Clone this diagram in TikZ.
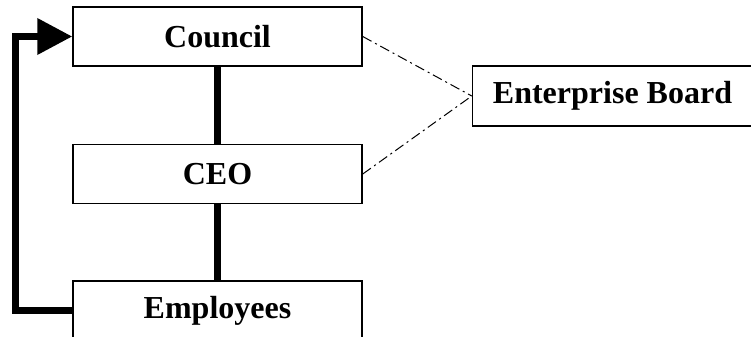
\documentclass[tikz,border=0pt]{standalone}
\usepackage{fontspec}
\setmainfont{Liberation Serif}
\usetikzlibrary{positioning}
\usetikzlibrary{arrows.meta}

\tikzset{
	unit/.style = {draw, black, line width = 0.75pt, fill = white, inner sep = 0pt, minimum width = 144.5pt, minimum height = 29.5pt, font = \fontsize{16}{19}\selectfont\bfseries},
	link/.style = {black, line width = 3.5pt},
	advice/.style = {black, line width = 0.5pt, dash pattern = on 5pt off 2pt on 1pt off 2pt}
}

\begin{document}
\begin{tikzpicture}[x = 0.5pt, y = -0.5pt]
			\useasboundingbox (0, 0) rectangle (751, 337);
			\node[unit] (council) at (217.5, 36.5) {Council};
			\node[unit, below = 38.5pt of council] (ceo) {CEO};
			\node[unit, below = 38pt of ceo] (employees) {Employees};
			\node[unit, minimum width = 140pt, minimum height = 30pt] (board) at (612.5, 96) {Enterprise Board};
			\draw[link] (council)--(ceo);
			\draw[link] (ceo)--(employees);
			\draw[link, -{Triangle[length = 17.5pt, width = 17.5pt]}] (employees.west)--++(-57, 0) |- (council.west);
			\draw[advice] (council.east)--(board.west);
			\draw[advice] (ceo.east)--(board.west);
		\end{tikzpicture}
\end{document}
